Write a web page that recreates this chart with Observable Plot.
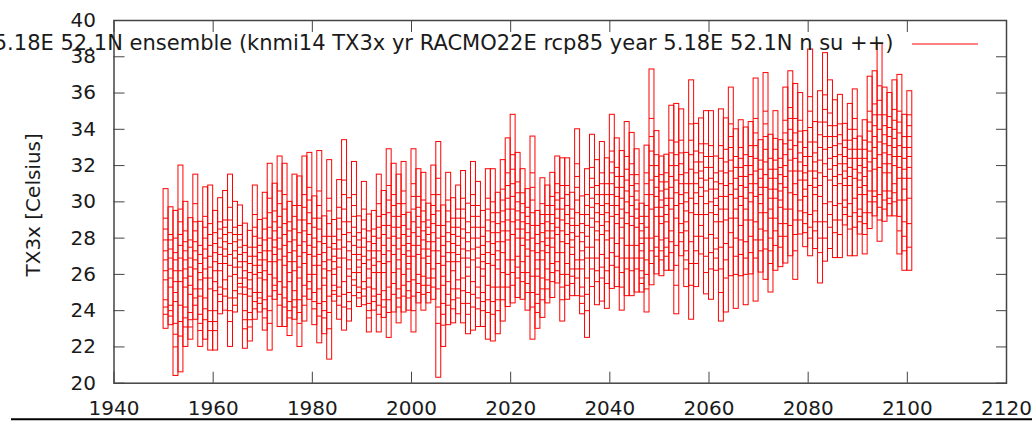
<!DOCTYPE html>
<html>
<head>
<meta charset="utf-8">
<script src="https://cdn.jsdelivr.net/npm/d3@7"></script>
<script src="https://cdn.jsdelivr.net/npm/@observablehq/plot@0.6"></script>
<style>
  html, body { margin: 0; padding: 0; background: white; }
  #chart { position: relative; width: 1035px; height: 421px; overflow: hidden; }
</style>
</head>
<body>
<div id="chart"></div>
<script>
// Years of the ensemble (each year drawn as a step from year to year+1)
const years = d3.range(1950, 2101);

// Ensemble maximum per year (top of each step box)
const hi = [
30.7,29.7,29.5,32.0,30.0,29.1,31.5,28.9,30.8,30.9,
29.5,30.2,30.6,31.5,30.0,29.8,28.8,28.4,30.9,29.0,
30.5,32.1,31.0,32.5,32.1,30.0,31.5,31.4,32.5,32.7,
30.3,32.8,29.2,32.3,29.0,31.2,33.4,30.2,32.2,29.2,
31.1,29.3,29.5,31.5,30.6,32.9,32.1,31.5,32.2,29.4,
32.9,31.8,31.6,29.9,32.0,33.3,29.8,31.6,30.2,30.9,
31.7,29.9,32.2,31.1,29.5,31.8,31.8,30.5,32.3,33.5,
34.8,32.7,31.8,30.7,33.6,29.5,31.3,30.9,31.6,32.5,
32.4,32.4,30.5,34.0,30.3,31.8,33.7,32.3,33.3,32.4,
34.8,33.5,32.8,34.4,33.8,32.9,29.9,33.1,37.3,33.9,
32.5,32.6,35.3,35.4,35.1,32.7,36.7,34.3,34.6,35.0,
35.0,32.5,35.1,34.6,36.3,34.0,34.5,34.1,34.4,36.8,
33.4,37.1,33.7,35.0,33.4,36.3,37.2,36.5,36.0,33.9,
38.4,34.4,36.1,38.2,36.7,35.6,35.9,34.3,35.4,36.2,
33.6,34.5,36.9,37.2,38.7,36.3,36.0,36.7,37.0,34.8,
36.1];

// Ensemble minimum per year (bottom of each step box)
const lo = [
23.0,23.2,20.4,20.6,22.0,22.4,23.5,22.0,22.4,21.8,
21.8,23.8,24.0,22.0,23.9,24.9,21.9,22.3,23.5,23.9,
22.9,21.8,24.6,23.1,23.1,22.6,23.5,22.0,23.4,24.6,
23.2,22.2,22.7,21.3,24.5,23.5,22.9,23.4,24.8,24.2,
24.3,22.8,24.0,22.8,23.6,22.5,23.9,23.3,23.9,24.0,
22.8,24.4,24.0,24.4,24.6,20.3,22.0,23.2,23.3,23.8,
23.3,22.7,22.9,23.1,23.1,22.4,22.3,22.7,23.4,24.2,
24.4,24.7,24.6,24.0,22.4,23.0,23.6,24.4,24.7,25.5,
23.4,24.6,24.8,24.8,23.8,22.5,25.3,24.3,24.5,24.1,
25.2,25.3,24.0,24.8,24.8,25.0,25.0,23.9,25.4,26.0,
25.9,26.2,26.2,23.8,27.0,25.3,23.5,25.3,27.1,24.9,
24.6,26.2,23.4,23.9,25.9,24.1,25.9,24.3,26.0,24.5,
26.1,25.7,25.0,26.2,26.4,26.6,27.0,25.7,28.2,27.5,
27.0,27.4,25.5,26.7,27.4,26.9,26.9,28.7,27.0,27.0,
28.2,27.1,28.5,29.2,27.8,28.9,29.2,29.2,27.1,26.2,
26.2];

// Interior ensemble members (horizontal steps inside the boxes)
const m1 = [
29.1,28.2,28.0,29.6,28.4,27.9,29.9,27.6,29.2,28.8,
28.3,28.9,29.0,29.7,28.6,28.7,27.6,27.5,29.3,28.0,
29.1,30.2,29.5,30.6,30.4,28.9,29.8,29.8,30.4,30.8,
29.1,30.6,28.1,30.2,28.1,29.7,31.2,28.9,30.4,28.3,
29.6,28.4,28.5,29.9,29.3,30.9,30.4,29.9,30.6,28.5,
31.0,30.3,30.1,29.0,30.4,31.3,28.7,30.1,29.1,29.6,
30.2,28.9,30.4,29.8,28.6,30.2,30.0,29.4,30.7,31.6,
32.6,31.1,30.5,29.7,31.6,28.7,29.9,29.8,30.3,31.0,
30.9,30.9,29.6,32.1,29.3,30.4,31.9,30.9,31.6,31.0,
32.8,31.9,31.4,32.5,32.1,31.5,29.2,31.6,34.6,32.6,
31.5,31.6,33.4,33.3,33.4,31.6,34.3,32.8,33.2,33.2,
33.1,31.6,33.1,32.9,34.3,32.5,33.0,32.6,33.1,34.6,
32.3,35.0,32.4,33.5,32.4,34.5,35.2,34.6,34.5,33.0,
35.8,33.3,34.4,35.9,34.9,34.2,34.3,33.4,34.0,34.6,
32.9,33.4,35.0,35.4,36.4,34.8,34.7,35.1,35.0,33.6,
34.8];
const m2 = [
27.9,27.4,26.8,28.2,27.3,26.9,28.4,26.6,28.0,27.6,
27.2,28.0,28.2,28.3,27.8,27.9,26.7,26.6,28.1,27.2,
27.9,28.6,28.4,29.2,28.8,27.8,28.5,28.3,29.0,29.4,
28.0,29.1,27.2,28.8,27.4,28.5,29.6,27.8,29.2,27.5,
28.5,27.3,27.7,28.6,28.2,29.4,29.2,28.6,29.3,27.7,
29.6,29.2,28.9,28.2,29.3,29.5,27.6,28.9,28.2,28.6,
29.1,27.8,29.2,28.6,27.6,29.0,28.9,28.3,29.5,30.2,
31.0,30.0,29.4,28.8,30.1,27.7,28.8,28.9,29.3,30.1,
29.6,29.8,28.7,30.8,28.3,29.3,30.8,29.9,30.4,29.9,
31.6,30.8,30.2,31.2,30.9,30.6,28.4,30.4,32.8,31.4,
30.6,30.7,32.0,32.0,32.1,30.5,32.6,31.6,32.2,31.9,
31.9,30.7,31.7,31.6,33.0,31.3,31.9,31.4,32.0,33.1,
31.3,33.6,31.3,32.3,31.5,33.2,34.0,33.1,33.3,32.0,
34.1,32.2,33.0,34.4,33.6,33.1,33.2,32.5,32.9,33.5,
32.0,32.4,33.9,34.2,34.8,33.7,33.6,34.0,33.8,32.4,
33.6];
const m3 = [
26.8,26.3,25.6,26.9,26.3,25.9,27.3,25.7,26.9,26.4,
26.2,27.1,27.4,27.1,26.9,27.1,25.8,25.7,27.0,26.5,
26.8,27.3,27.5,28.0,27.6,26.7,27.3,27.0,27.8,28.2,
27.0,27.8,26.3,27.5,26.7,27.4,28.2,26.8,28.1,26.8,
27.5,26.3,26.9,27.3,27.1,28.0,28.1,27.4,28.2,27.0,
28.3,28.1,27.9,27.4,28.3,28.0,26.5,27.8,27.2,27.6,
28.0,26.9,28.0,27.5,26.7,27.8,27.7,27.3,28.4,29.0,
29.6,29.0,28.5,27.9,28.7,26.8,27.8,28.0,28.4,29.1,
28.4,28.8,27.9,29.4,27.3,28.1,29.7,28.9,29.3,28.9,
30.4,29.8,29.1,30.0,29.8,29.6,27.7,29.2,31.2,30.3,
29.7,29.8,30.8,30.5,31.0,29.5,31.0,30.5,31.3,30.6,
30.7,29.8,30.3,30.3,31.7,30.2,30.9,30.2,31.0,31.7,
30.4,32.2,30.2,31.3,30.6,32.0,32.9,31.7,32.2,31.2,
32.5,31.3,31.6,32.9,32.4,32.0,32.1,31.7,31.9,32.4,
31.2,31.4,32.8,33.0,33.3,32.7,32.6,33.0,32.5,31.3,
32.5];
const m4 = [
25.7,25.3,24.5,25.6,25.3,24.9,26.3,24.8,25.8,25.2,
25.1,26.2,26.6,25.9,26.0,26.4,24.9,24.8,26.0,25.8,
25.7,26.0,26.7,26.8,26.5,25.6,26.2,25.8,26.6,27.1,
26.0,26.5,25.4,26.2,26.0,26.4,26.9,25.9,27.1,26.1,
26.6,25.3,26.1,26.1,26.1,26.7,27.1,26.3,27.1,26.3,
27.0,27.1,26.9,26.6,27.3,26.6,25.4,26.7,26.2,26.7,
26.9,25.9,26.8,26.4,25.9,26.6,26.5,26.3,27.2,27.9,
28.2,28.0,27.6,27.0,27.3,25.9,26.8,27.2,27.5,28.2,
27.2,27.7,27.1,28.1,26.3,26.9,28.6,27.9,28.2,27.9,
29.2,28.8,28.0,28.8,28.7,28.6,26.9,28.0,29.6,29.2,
28.8,28.9,29.6,29.1,29.9,28.4,29.4,29.3,30.3,29.3,
29.4,28.9,28.9,29.0,30.4,29.1,29.8,29.0,30.0,30.3,
29.4,30.8,29.1,30.2,29.7,30.8,31.7,30.4,31.2,30.3,
30.9,30.4,30.3,31.4,31.2,30.9,31.0,30.9,30.9,31.3,
30.4,30.4,31.7,31.8,31.9,31.6,31.6,32.0,31.3,30.1,
31.3];
const m5 = [
24.6,24.3,23.3,24.3,24.2,23.9,25.2,23.8,24.7,24.0,
24.0,25.3,25.7,24.7,25.1,25.8,24.0,23.9,25.0,25.0,
24.6,24.8,25.8,25.6,25.3,24.5,25.1,24.6,25.4,26.0,
25.0,25.2,24.5,24.8,25.4,25.3,25.6,25.0,26.1,25.3,
25.6,24.4,25.2,24.9,25.1,25.3,26.1,25.2,26.0,25.6,
25.7,26.0,25.9,25.8,26.3,25.2,24.4,25.6,25.2,25.7,
25.8,25.0,25.6,25.3,25.0,25.4,25.3,25.3,26.1,26.8,
26.8,27.0,26.7,26.1,25.9,24.9,25.8,26.3,26.6,27.2,
26.0,26.6,26.3,26.8,25.3,25.8,27.5,26.9,27.1,26.9,
28.0,27.7,26.9,27.6,27.6,27.6,26.2,26.8,28.0,28.1,
27.9,28.0,28.4,27.6,28.8,27.3,27.8,28.1,29.3,28.0,
28.2,28.0,27.5,27.7,29.1,28.0,28.7,27.8,29.0,28.9,
28.5,29.4,28.0,29.1,28.8,29.6,30.5,29.0,30.1,29.4,
29.3,29.5,28.9,29.9,30.0,29.8,29.9,30.1,29.9,30.2,
29.6,29.4,30.6,30.6,30.4,30.6,30.6,31.0,30.1,28.9,
30.2];
const m6 = [
23.8,23.7,22.0,22.6,23.1,23.1,24.3,22.9,23.5,22.9,
22.9,24.5,24.8,23.4,24.3,25.3,23.0,23.1,24.1,24.4,
23.6,23.3,25.1,24.3,24.2,23.6,24.2,23.3,24.3,25.2,
24.1,23.7,23.6,23.0,24.9,24.3,24.2,24.1,25.4,24.7,
24.8,23.6,24.5,23.8,24.2,23.9,24.9,24.2,24.8,24.7,
24.0,25.0,24.9,25.0,25.3,23.3,23.2,24.3,24.1,24.7,
24.4,23.8,24.2,24.1,24.0,23.9,23.8,24.0,24.6,25.3,
25.4,25.8,25.6,25.0,24.2,23.9,24.6,25.2,25.6,26.2,
24.6,25.4,25.5,25.8,24.4,24.0,26.3,25.6,25.8,25.5,
26.5,26.4,25.3,26.3,26.2,26.3,25.5,25.2,26.6,27.0,
26.8,27.0,27.2,25.4,27.8,26.3,25.4,26.6,28.1,26.1,
26.3,26.9,25.0,25.8,27.5,26.0,27.1,26.0,27.2,26.9,
27.3,27.4,26.6,27.6,27.5,28.1,28.7,27.3,29.0,28.3,
28.0,28.4,27.2,28.0,28.6,28.3,28.2,29.3,28.5,28.6,
28.9,28.2,29.4,30.0,29.0,29.6,29.9,30.0,28.4,27.3,
27.5];
const m7 = [
28.5,27.9,27.2,28.9,27.8,27.5,28.9,27.1,28.6,28.2,
27.7,28.5,28.6,29.0,28.2,28.2,27.2,27.0,28.6,27.6,
28.5,29.4,28.9,29.9,29.6,28.4,29.2,29.0,29.7,30.1,
28.6,29.8,27.7,29.5,27.7,29.1,30.4,28.3,29.8,27.9,
29.0,27.8,28.1,29.2,28.7,30.1,29.8,29.2,29.9,28.1,
30.3,29.7,29.5,28.6,29.8,30.4,28.1,29.5,28.6,29.1,
29.6,28.3,29.8,29.2,28.1,29.6,29.4,28.8,30.1,30.9,
31.8,30.5,29.9,29.2,30.8,28.2,29.3,29.3,29.8,30.5,
30.2,30.4,29.1,31.4,28.8,29.8,31.3,30.4,31.0,30.4,
32.2,31.4,30.8,31.8,31.5,31.0,28.8,31.0,33.6,32.0,
31.1,31.1,32.7,32.6,32.7,31.0,33.4,32.2,32.7,32.5,
32.5,31.1,32.4,32.2,33.6,31.9,32.4,32.0,32.5,33.8,
31.8,34.3,31.8,32.9,31.9,33.8,34.6,33.8,33.9,32.5,
35.0,32.7,33.7,35.1,34.2,33.6,33.7,33.0,33.4,34.0,
32.4,32.9,34.4,34.8,35.6,34.2,34.1,34.5,34.4,33.0,
34.2];
const m8 = [
26.2,25.8,25.0,26.2,25.8,25.4,26.8,25.2,26.3,25.8,
25.6,26.6,27.0,26.5,26.4,26.7,25.3,25.2,26.5,26.1,
26.2,26.7,27.1,27.4,27.0,26.1,26.7,26.4,27.2,27.6,
26.5,27.1,25.8,26.8,26.3,26.9,27.5,26.3,27.6,26.4,
27.0,25.8,26.5,26.7,26.6,27.3,27.6,26.8,27.6,26.6,
27.6,27.6,27.4,27.0,27.8,27.3,25.9,27.2,26.7,27.1,
27.4,26.4,27.4,26.9,26.3,27.2,27.1,26.8,27.8,28.4,
28.9,28.5,28.0,27.4,28.0,26.3,27.3,27.6,28.0,28.6,
27.8,28.2,27.5,28.7,26.8,27.5,29.1,28.4,28.7,28.4,
29.8,29.3,28.6,29.4,29.2,29.1,27.3,28.6,30.4,29.7,
29.2,29.3,30.2,29.8,30.4,28.9,30.2,29.9,30.8,29.9,
30.0,29.3,29.6,29.6,31.0,29.6,30.3,29.6,30.5,31.0,
29.9,31.5,29.6,30.7,30.1,31.4,32.3,31.0,31.7,30.7,
31.7,30.8,30.9,32.1,31.8,31.4,31.5,31.3,31.4,31.8,
30.8,30.9,32.2,32.4,32.6,32.1,32.1,32.5,31.9,30.7,
31.9];
const m9 = [
24.2,24.0,22.7,23.4,23.6,23.5,24.7,23.3,24.1,23.4,
23.4,24.9,25.2,24.0,24.7,25.5,23.5,23.5,24.5,24.7,
24.1,24.0,25.4,24.9,24.7,24.0,24.6,23.9,24.8,25.6,
24.5,24.4,24.0,23.9,25.1,24.8,24.9,24.5,25.7,25.0,
25.2,24.0,24.8,24.3,24.6,24.6,25.5,24.7,25.4,25.1,
24.8,25.5,25.4,25.4,25.8,24.2,23.8,24.9,24.6,25.2,
25.1,24.4,24.9,24.7,24.5,24.6,24.5,24.6,25.3,26.0,
26.1,26.4,26.1,25.5,25.0,24.4,25.2,25.7,26.1,26.7,
25.3,26.0,25.9,26.3,24.8,24.9,26.9,26.2,26.4,26.2,
27.2,27.0,26.1,26.9,26.9,26.9,25.8,26.0,27.3,27.5,
27.3,27.5,27.8,26.5,28.3,26.8,26.6,27.3,28.7,27.0,
27.2,27.4,26.3,26.8,28.3,27.0,27.9,26.9,28.1,27.9,
27.9,28.4,27.3,28.4,28.1,28.8,29.6,28.2,29.5,28.8,
28.6,28.9,28.0,28.9,29.3,29.0,29.0,29.7,29.2,29.4,
29.2,28.8,30.0,30.3,29.7,30.1,30.2,30.5,29.2,28.1,
28.8];
const m10 = [
27.3,26.9,26.2,27.6,26.8,26.4,27.8,26.1,27.4,27.0,
26.7,27.5,27.8,27.7,27.3,27.5,26.2,26.1,27.5,26.8,
27.3,28.0,27.9,28.6,28.2,27.2,27.9,27.6,28.4,28.8,
27.5,28.5,26.7,28.1,27.0,27.9,28.9,27.3,28.6,27.1,
28.0,26.8,27.3,28.0,27.6,28.7,28.6,28.0,28.7,27.3,
28.9,28.6,28.4,27.8,28.8,28.7,27.0,28.3,27.7,28.1,
28.5,27.3,28.6,28.0,27.1,28.4,28.3,27.8,28.9,29.6,
30.3,29.5,28.9,28.3,29.4,27.2,28.3,28.4,28.8,29.6,
29.0,29.3,28.3,30.1,27.8,28.7,30.2,29.4,29.8,29.4,
31.0,30.3,29.6,30.6,30.3,30.1,28.0,29.8,32.0,30.8,
30.1,30.2,31.4,31.2,31.5,30.0,31.8,31.0,31.7,31.2,
31.3,30.2,31.0,30.9,32.3,30.7,31.4,30.8,31.5,32.4,
30.8,32.9,30.7,31.8,31.0,32.6,33.4,32.4,32.7,31.6,
33.3,31.7,32.3,33.6,33.0,32.5,32.6,32.1,32.4,32.9,
31.6,31.9,33.3,33.6,34.0,33.2,33.1,33.5,33.1,31.8,
33.0];

// Axis ticks and texts
const xTicks = [1940, 1960, 1980, 2000, 2020, 2040, 2060, 2080, 2100, 2120];
const yTicks = [20, 22, 24, 26, 28, 30, 32, 34, 36, 38, 40];
const titleText = "5.18E 52.1N ensemble (knmi14 TX3x yr RACMO22E rcp85 year 5.18E 52.1N n su ++)";
const yLabel = "TX3x [Celsius]";

const boxes = years.map((y, i) => ({year: y, lo: lo[i], hi: hi[i]}));
const members = [m1, m2, m3, m4, m5, m6, m7, m8, m9, m10]
  .flatMap(m => m.map((v, i) => ({year: years[i], v})));

const RED = "#ff0000";
const AX = "#444";

const plot = Plot.plot({
  width: 1035,
  height: 421,
  marginLeft: 113.5,
  marginRight: 29,
  marginTop: 20,
  marginBottom: 38.3,
  style: {fontFamily: "DejaVu Sans", fontSize: "20px", color: "#1a1a1a", background: "white"},
  x: {domain: [1940, 2120]},
  y: {domain: [20, 40]},
  marks: [
    Plot.rect(boxes, {x1: "year", x2: d => d.year + 1, y1: "lo", y2: "hi", stroke: RED, strokeWidth: 1, fill: "none"}),
    Plot.ruleY(members, {y: "v", x1: "year", x2: d => d.year + 1, stroke: RED, strokeWidth: 1}),
    Plot.frame({stroke: AX, strokeWidth: 1.5}),
    // inward ticks on all four sides
    Plot.axisY(yTicks, {anchor: "left", tickSize: -11, tickFormat: () => "", label: null, stroke: AX}),
    Plot.axisY(yTicks, {anchor: "right", tickSize: -11, tickFormat: () => "", label: null, stroke: AX}),
    Plot.axisX(xTicks, {anchor: "bottom", tickSize: -11, tickFormat: () => "", label: null, stroke: AX}),
    Plot.axisX(xTicks, {anchor: "top", tickSize: -11, tickFormat: () => "", label: null, stroke: AX}),
    // tick labels
    Plot.axisY(yTicks, {anchor: "left", tickSize: 0, tickPadding: 18, tickFormat: "d", label: null, fontSize: 20}),
    Plot.axisX(xTicks, {anchor: "bottom", tickSize: 0, tickPadding: 18, tickFormat: "d", label: null, fontSize: 20}),
    // axis label and key title
    Plot.text([yLabel], {frameAnchor: "left", dx: -80, dy: 3, rotate: -90, textAnchor: "middle", lineAnchor: "middle", fontSize: 20, fill: "#1a1a1a"}),
    Plot.text([titleText], {frameAnchor: "top-right", dx: -113, dy: 23, textAnchor: "end", lineAnchor: "middle", fontSize: 21, fill: "#1a1a1a"})
  ]
});

document.getElementById("chart").appendChild(plot);

// legend key sample line and the bottom rule
const svg = d3.select(plot);
svg.append("line").attr("x1", 912).attr("x2", 978).attr("y1", 44).attr("y2", 44)
  .attr("stroke", RED).attr("stroke-width", 1);
svg.append("line").attr("x1", 11).attr("x2", 1032).attr("y1", 419.3).attr("y2", 419.3)
  .attr("stroke", "#000").attr("stroke-width", 2);
</script>
</body>
</html>
